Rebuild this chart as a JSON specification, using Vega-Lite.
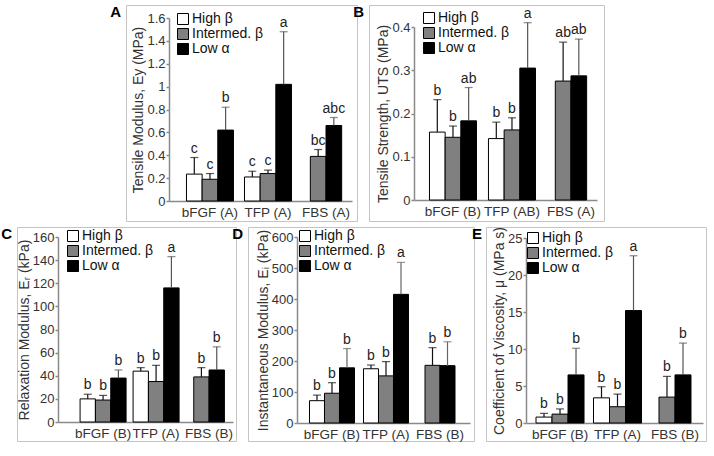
{
  "$schema": "https://vega.github.io/schema/vega-lite/v6.json",
  "padding": {"left": 0, "top": 4, "right": 4, "bottom": 4},
  "spacing": 3,
  "resolve": {"scale": {"color": "independent", "xOffset": "independent", "x": "independent", "y": "independent"}, "legend": {"color": "independent"}},
  "vconcat": [
    {
      "hconcat": [
        {"width": 97, "height": 216, "data": {"values": []}, "mark": "point", "view": {"stroke": null}},
        {
          "width": 231, "height": 216,
          "title": {"text": "A"},
          "data": {"values": [
            {"g": "bFGF (A)", "s": "High β", "v": 0.235, "hi": 0.38, "lab": "c"},
            {"g": "bFGF (A)", "s": "Intermed. β", "v": 0.19, "hi": 0.24, "lab": "c"},
            {"g": "bFGF (A)", "s": "Low α", "v": 0.62, "hi": 0.82, "lab": "b"},
            {"g": "TFP (A)", "s": "High β", "v": 0.21, "hi": 0.26, "lab": "c"},
            {"g": "TFP (A)", "s": "Intermed. β", "v": 0.24, "hi": 0.27, "lab": "c"},
            {"g": "TFP (A)", "s": "Low α", "v": 1.02, "hi": 1.48, "lab": "a"},
            {"g": "FBS (A)", "s": "Intermed. β", "v": 0.39, "hi": 0.45, "lab": "bc"},
            {"g": "FBS (A)", "s": "Low α", "v": 0.66, "hi": 0.73, "lab": "abc"}
          ]},
          "encoding": {
            "x": {"field": "g", "type": "nominal", "sort": null, "scale": {"type": "band", "domain": ["bFGF (A)", "TFP (A)", "FBS (A)"], "range": [43, 226], "paddingInner": 0.19, "paddingOuter": 0.172, "align": 0.875}, "axis": {"title": null, "offset": -20}},
            "y": {"field": "v", "type": "quantitative", "scale": {"domain": [0, 1.6], "range": [196, 13], "nice": false}, "axis": {"title": "Tensile Modulus, Ey (MPa)", "values": [0, 0.2, 0.4, 0.6, 0.8, 1, 1.2, 1.4, 1.6], "format": "~g", "offset": -43}},
            "color": {"field": "s", "type": "nominal", "scale": {"domain": ["High β", "Intermed. β", "Low α"], "range": ["#ffffff", "#808080", "#000000"]}, "legend": {"title": null, "orient": "none", "legendX": 50, "legendY": 7}}
          },
          "layer": [
            {"transform": [{"filter": "indexof(datum.g, 'FBS') < 0"}],
             "encoding": {"xOffset": {"field": "s", "type": "nominal", "scale": {"domain": ["High β", "Intermed. β", "Low α"], "paddingInner": 0, "paddingOuter": 0}}},
             "layer": [
               {"mark": {"type": "bar", "stroke": "#000", "strokeWidth": 1}},
               {"mark": {"type": "rule", "strokeWidth": 1.2}, "encoding": {"y2": {"field": "hi"}, "color": {"condition": {"test": "datum.s === 'Low α'", "value": "#555"}, "value": "#111"}}},
               {"mark": {"type": "tick", "orient": "horizontal", "size": 8, "thickness": 1.2}, "encoding": {"y": {"field": "hi", "type": "quantitative"}, "color": {"condition": {"test": "datum.s === 'Low α'", "value": "#555"}, "value": "#111"}}},
               {"mark": {"type": "text", "baseline": "bottom", "dy": -2, "fontSize": 14}, "encoding": {"y": {"field": "hi", "type": "quantitative"}, "text": {"field": "lab"}, "color": {"value": "#222"}}}
             ]},
            {"transform": [{"filter": "indexof(datum.g, 'FBS') >= 0"}],
             "encoding": {"xOffset": {"field": "s", "type": "nominal", "scale": {"domain": ["Intermed. β", "Low α"], "paddingInner": 0, "paddingOuter": 0.5}}},
             "layer": [
               {"mark": {"type": "bar", "stroke": "#000", "strokeWidth": 1}},
               {"mark": {"type": "rule", "strokeWidth": 1.2}, "encoding": {"y2": {"field": "hi"}, "color": {"condition": {"test": "datum.s === 'Low α'", "value": "#555"}, "value": "#111"}}},
               {"mark": {"type": "tick", "orient": "horizontal", "size": 8, "thickness": 1.2}, "encoding": {"y": {"field": "hi", "type": "quantitative"}, "color": {"condition": {"test": "datum.s === 'Low α'", "value": "#555"}, "value": "#111"}}},
               {"mark": {"type": "text", "baseline": "bottom", "dy": -2, "fontSize": 14}, "encoding": {"y": {"field": "hi", "type": "quantitative"}, "text": {"field": "lab"}, "color": {"value": "#222"}}}
             ]}
          ],
          "resolve": {"scale": {"xOffset": "independent"}}
        },
        {
          "width": 235, "height": 216,
          "title": {"text": "B"},
          "data": {"values": [
            {"g": "bFGF (B)", "s": "High β", "v": 0.157, "hi": 0.232, "lab": "b"},
            {"g": "bFGF (B)", "s": "Intermed. β", "v": 0.145, "hi": 0.171, "lab": "b"},
            {"g": "bFGF (B)", "s": "Low α", "v": 0.183, "hi": 0.26, "lab": "ab"},
            {"g": "TFP (AB)", "s": "High β", "v": 0.142, "hi": 0.18, "lab": "b"},
            {"g": "TFP (AB)", "s": "Intermed. β", "v": 0.162, "hi": 0.19, "lab": "b"},
            {"g": "TFP (AB)", "s": "Low α", "v": 0.305, "hi": 0.41, "lab": "a"},
            {"g": "FBS (A)", "s": "Intermed. β", "v": 0.275, "hi": 0.365, "lab": "ab"},
            {"g": "FBS (A)", "s": "Low α", "v": 0.287, "hi": 0.372, "lab": "ab"}
          ]},
          "encoding": {
            "x": {"field": "g", "type": "nominal", "sort": null, "scale": {"type": "band", "domain": ["bFGF (B)", "TFP (AB)", "FBS (A)"], "range": [45, 228], "paddingInner": 0.203, "paddingOuter": 0.1525, "align": 0.86}, "axis": {"title": null, "offset": -21}},
            "y": {"field": "v", "type": "quantitative", "scale": {"domain": [0, 0.4], "range": [195, 22], "nice": false}, "axis": {"title": "Tensile Strength, UTS (MPa)", "values": [0, 0.1, 0.2, 0.3, 0.4], "format": "~g", "offset": -45}},
            "color": {"field": "s", "type": "nominal", "scale": {"domain": ["High β", "Intermed. β", "Low α"], "range": ["#ffffff", "#808080", "#000000"]}, "legend": {"title": null, "orient": "none", "legendX": 53, "legendY": 6}}
          },
          "layer": [
            {"transform": [{"filter": "indexof(datum.g, 'FBS') < 0"}],
             "encoding": {"xOffset": {"field": "s", "type": "nominal", "scale": {"domain": ["High β", "Intermed. β", "Low α"], "paddingInner": 0, "paddingOuter": 0}}},
             "layer": [
               {"mark": {"type": "bar", "stroke": "#000", "strokeWidth": 1}},
               {"mark": {"type": "rule", "strokeWidth": 1.2}, "encoding": {"y2": {"field": "hi"}, "color": {"condition": {"test": "datum.s === 'Low α'", "value": "#555"}, "value": "#111"}}},
               {"mark": {"type": "tick", "orient": "horizontal", "size": 8, "thickness": 1.2}, "encoding": {"y": {"field": "hi", "type": "quantitative"}, "color": {"condition": {"test": "datum.s === 'Low α'", "value": "#555"}, "value": "#111"}}},
               {"mark": {"type": "text", "baseline": "bottom", "dy": -2, "fontSize": 14}, "encoding": {"y": {"field": "hi", "type": "quantitative"}, "text": {"field": "lab"}, "color": {"value": "#222"}}}
             ]},
            {"transform": [{"filter": "indexof(datum.g, 'FBS') >= 0"}],
             "encoding": {"xOffset": {"field": "s", "type": "nominal", "scale": {"domain": ["Intermed. β", "Low α"], "paddingInner": 0, "paddingOuter": 0.5}}},
             "layer": [
               {"mark": {"type": "bar", "stroke": "#000", "strokeWidth": 1}},
               {"mark": {"type": "rule", "strokeWidth": 1.2}, "encoding": {"y2": {"field": "hi"}, "color": {"condition": {"test": "datum.s === 'Low α'", "value": "#555"}, "value": "#111"}}},
               {"mark": {"type": "tick", "orient": "horizontal", "size": 8, "thickness": 1.2}, "encoding": {"y": {"field": "hi", "type": "quantitative"}, "color": {"condition": {"test": "datum.s === 'Low α'", "value": "#555"}, "value": "#111"}}},
               {"mark": {"type": "text", "baseline": "bottom", "dy": -2, "fontSize": 14}, "encoding": {"y": {"field": "hi", "type": "quantitative"}, "text": {"field": "lab"}, "color": {"value": "#222"}}}
             ]}
          ],
          "resolve": {"scale": {"xOffset": "independent"}}
        }
      ],
      "bounds": "flush",
      "spacing": 12,
      "resolve": {"scale": {"color": "independent", "xOffset": "independent", "x": "independent", "y": "independent"}, "legend": {"color": "independent"}}
    },
    {
      "hconcat": [
        {
          "width": 219, "height": 214,
          "title": {"text": "C"},
          "data": {"values": [
            {"g": "bFGF (B)", "s": "High β", "v": 20, "hi": 24, "lab": "b"},
            {"g": "bFGF (B)", "s": "Intermed. β", "v": 19, "hi": 23, "lab": "b"},
            {"g": "bFGF (B)", "s": "Low α", "v": 38, "hi": 45, "lab": "b"},
            {"g": "TFP (A)", "s": "High β", "v": 44, "hi": 47, "lab": "b"},
            {"g": "TFP (A)", "s": "Intermed. β", "v": 35, "hi": 49, "lab": "b"},
            {"g": "TFP (A)", "s": "Low α", "v": 116, "hi": 143, "lab": "a"},
            {"g": "FBS (B)", "s": "Intermed. β", "v": 39, "hi": 47, "lab": "b"},
            {"g": "FBS (B)", "s": "Low α", "v": 45, "hi": 65, "lab": "b"}
          ]},
          "encoding": {
            "x": {"field": "g", "type": "nominal", "sort": null, "scale": {"type": "band", "domain": ["bFGF (B)", "TFP (A)", "FBS (B)"], "range": [41, 216], "paddingInner": 0.132, "paddingOuter": 0.217, "align": 0.96}, "axis": {"title": null, "offset": -19}},
            "y": {"field": "v", "type": "quantitative", "scale": {"domain": [0, 160], "range": [195, 10], "nice": false}, "axis": {"title": "Relaxation Modulus, Eᵣ (kPa)", "values": [0, 20, 40, 60, 80, 100, 120, 140, 160], "offset": -41}},
            "color": {"field": "s", "type": "nominal", "scale": {"domain": ["High β", "Intermed. β", "Low α"], "range": ["#ffffff", "#808080", "#000000"]}, "legend": {"title": null, "orient": "none", "legendX": 49, "legendY": 2}}
          },
          "layer": [
            {"transform": [{"filter": "indexof(datum.g, 'FBS') < 0"}],
             "encoding": {"xOffset": {"field": "s", "type": "nominal", "scale": {"domain": ["High β", "Intermed. β", "Low α"], "paddingInner": 0, "paddingOuter": 0}}},
             "layer": [
               {"mark": {"type": "bar", "stroke": "#000", "strokeWidth": 1}},
               {"mark": {"type": "rule", "strokeWidth": 1.2}, "encoding": {"y2": {"field": "hi"}, "color": {"condition": {"test": "datum.s === 'Low α'", "value": "#555"}, "value": "#111"}}},
               {"mark": {"type": "tick", "orient": "horizontal", "size": 8, "thickness": 1.2}, "encoding": {"y": {"field": "hi", "type": "quantitative"}, "color": {"condition": {"test": "datum.s === 'Low α'", "value": "#555"}, "value": "#111"}}},
               {"mark": {"type": "text", "baseline": "bottom", "dy": -2, "fontSize": 14}, "encoding": {"y": {"field": "hi", "type": "quantitative"}, "text": {"field": "lab"}, "color": {"value": "#222"}}}
             ]},
            {"transform": [{"filter": "indexof(datum.g, 'FBS') >= 0"}],
             "encoding": {"xOffset": {"field": "s", "type": "nominal", "scale": {"domain": ["Intermed. β", "Low α"], "paddingInner": 0, "paddingOuter": 0.5}}},
             "layer": [
               {"mark": {"type": "bar", "stroke": "#000", "strokeWidth": 1}},
               {"mark": {"type": "rule", "strokeWidth": 1.2}, "encoding": {"y2": {"field": "hi"}, "color": {"condition": {"test": "datum.s === 'Low α'", "value": "#555"}, "value": "#111"}}},
               {"mark": {"type": "tick", "orient": "horizontal", "size": 8, "thickness": 1.2}, "encoding": {"y": {"field": "hi", "type": "quantitative"}, "color": {"condition": {"test": "datum.s === 'Low α'", "value": "#555"}, "value": "#111"}}},
               {"mark": {"type": "text", "baseline": "bottom", "dy": -2, "fontSize": 14}, "encoding": {"y": {"field": "hi", "type": "quantitative"}, "text": {"field": "lab"}, "color": {"value": "#222"}}}
             ]}
          ],
          "resolve": {"scale": {"xOffset": "independent"}}
        },
        {
          "width": 226, "height": 214,
          "title": {"text": "D"},
          "data": {"values": [
            {"g": "bFGF (B)", "s": "High β", "v": 72, "hi": 90, "lab": "b"},
            {"g": "bFGF (B)", "s": "Intermed. β", "v": 96, "hi": 130, "lab": "b"},
            {"g": "bFGF (B)", "s": "Low α", "v": 178, "hi": 240, "lab": "b"},
            {"g": "TFP (A)", "s": "High β", "v": 175, "hi": 187, "lab": "b"},
            {"g": "TFP (A)", "s": "Intermed. β", "v": 152, "hi": 198, "lab": "b"},
            {"g": "TFP (A)", "s": "Low α", "v": 415, "hi": 518, "lab": "a"},
            {"g": "FBS (B)", "s": "Intermed. β", "v": 186, "hi": 243, "lab": "b"},
            {"g": "FBS (B)", "s": "Low α", "v": 185, "hi": 262, "lab": "b"}
          ]},
          "encoding": {
            "x": {"field": "g", "type": "nominal", "sort": null, "scale": {"type": "band", "domain": ["bFGF (B)", "TFP (A)", "FBS (B)"], "range": [49, 222], "paddingInner": 0.167, "paddingOuter": 0.185, "align": 0.625}, "axis": {"title": null, "offset": -18}},
            "y": {"field": "v", "type": "quantitative", "scale": {"domain": [0, 600], "range": [196, 10], "nice": false}, "axis": {"title": "Instantaneous Modulus, Eᵢ (kPa)", "values": [0, 100, 200, 300, 400, 500, 600], "offset": -49}},
            "color": {"field": "s", "type": "nominal", "scale": {"domain": ["High β", "Intermed. β", "Low α"], "range": ["#ffffff", "#808080", "#000000"]}, "legend": {"title": null, "orient": "none", "legendX": 50, "legendY": 2}}
          },
          "layer": [
            {"transform": [{"filter": "indexof(datum.g, 'FBS') < 0"}],
             "encoding": {"xOffset": {"field": "s", "type": "nominal", "scale": {"domain": ["High β", "Intermed. β", "Low α"], "paddingInner": 0, "paddingOuter": 0}}},
             "layer": [
               {"mark": {"type": "bar", "stroke": "#000", "strokeWidth": 1}},
               {"mark": {"type": "rule", "strokeWidth": 1.2}, "encoding": {"y2": {"field": "hi"}, "color": {"condition": {"test": "datum.s === 'Low α'", "value": "#666"}, "value": "#111"}}},
               {"mark": {"type": "tick", "orient": "horizontal", "size": 8, "thickness": 1.2}, "encoding": {"y": {"field": "hi", "type": "quantitative"}, "color": {"condition": {"test": "datum.s === 'Low α'", "value": "#666"}, "value": "#111"}}},
               {"mark": {"type": "text", "baseline": "bottom", "dy": -2, "fontSize": 14}, "encoding": {"y": {"field": "hi", "type": "quantitative"}, "text": {"field": "lab"}, "color": {"value": "#222"}}}
             ]},
            {"transform": [{"filter": "indexof(datum.g, 'FBS') >= 0"}],
             "encoding": {"xOffset": {"field": "s", "type": "nominal", "scale": {"domain": ["Intermed. β", "Low α"], "paddingInner": 0, "paddingOuter": 0.5}}},
             "layer": [
               {"mark": {"type": "bar", "stroke": "#000", "strokeWidth": 1}},
               {"mark": {"type": "rule", "strokeWidth": 1.2}, "encoding": {"y2": {"field": "hi"}, "color": {"condition": {"test": "datum.s === 'Low α'", "value": "#666"}, "value": "#111"}}},
               {"mark": {"type": "tick", "orient": "horizontal", "size": 8, "thickness": 1.2}, "encoding": {"y": {"field": "hi", "type": "quantitative"}, "color": {"condition": {"test": "datum.s === 'Low α'", "value": "#666"}, "value": "#111"}}},
               {"mark": {"type": "text", "baseline": "bottom", "dy": -2, "fontSize": 14}, "encoding": {"y": {"field": "hi", "type": "quantitative"}, "text": {"field": "lab"}, "color": {"value": "#222"}}}
             ]}
          ],
          "resolve": {"scale": {"xOffset": "independent"}}
        },
        {
          "width": 220, "height": 214,
          "title": {"text": "E"},
          "data": {"values": [
            {"g": "bFGF (B)", "s": "High β", "v": 0.8, "hi": 1.3, "lab": "b"},
            {"g": "bFGF (B)", "s": "Intermed. β", "v": 1.2, "hi": 1.9, "lab": "b"},
            {"g": "bFGF (B)", "s": "Low α", "v": 6.5, "hi": 10.1, "lab": "b"},
            {"g": "TFP (A)", "s": "High β", "v": 3.4, "hi": 4.9, "lab": "b"},
            {"g": "TFP (A)", "s": "Intermed. β", "v": 2.2, "hi": 3.9, "lab": "b"},
            {"g": "TFP (A)", "s": "Low α", "v": 15.2, "hi": 22.6, "lab": "a"},
            {"g": "FBS (B)", "s": "Intermed. β", "v": 3.5, "hi": 6.3, "lab": "b"},
            {"g": "FBS (B)", "s": "Low α", "v": 6.5, "hi": 10.8, "lab": "b"}
          ]},
          "encoding": {
            "x": {"field": "g", "type": "nominal", "sort": null, "scale": {"type": "band", "domain": ["bFGF (B)", "TFP (A)", "FBS (B)"], "range": [40, 217], "paddingInner": 0.165, "paddingOuter": 0.122, "align": 0.714}, "axis": {"title": null, "offset": -18}},
            "y": {"field": "v", "type": "quantitative", "scale": {"domain": [0, 25], "range": [196, 11], "nice": false}, "axis": {"title": "Coefficient of Viscosity, μ (MPa s)", "values": [0, 5, 10, 15, 20, 25], "offset": -40}},
            "color": {"field": "s", "type": "nominal", "scale": {"domain": ["High β", "Intermed. β", "Low α"], "range": ["#ffffff", "#808080", "#000000"]}, "legend": {"title": null, "orient": "none", "legendX": 40, "legendY": 4}}
          },
          "layer": [
            {"transform": [{"filter": "indexof(datum.g, 'FBS') < 0"}],
             "encoding": {"xOffset": {"field": "s", "type": "nominal", "scale": {"domain": ["High β", "Intermed. β", "Low α"], "paddingInner": 0, "paddingOuter": 0}}},
             "layer": [
               {"mark": {"type": "bar", "stroke": "#000", "strokeWidth": 1}},
               {"mark": {"type": "rule", "strokeWidth": 1.2}, "encoding": {"y2": {"field": "hi"}, "color": {"condition": {"test": "datum.s === 'Low α'", "value": "#555"}, "value": "#111"}}},
               {"mark": {"type": "tick", "orient": "horizontal", "size": 8, "thickness": 1.2}, "encoding": {"y": {"field": "hi", "type": "quantitative"}, "color": {"condition": {"test": "datum.s === 'Low α'", "value": "#555"}, "value": "#111"}}},
               {"mark": {"type": "text", "baseline": "bottom", "dy": -2, "fontSize": 14}, "encoding": {"y": {"field": "hi", "type": "quantitative"}, "text": {"field": "lab"}, "color": {"value": "#222"}}}
             ]},
            {"transform": [{"filter": "indexof(datum.g, 'FBS') >= 0"}],
             "encoding": {"xOffset": {"field": "s", "type": "nominal", "scale": {"domain": ["Intermed. β", "Low α"], "paddingInner": 0, "paddingOuter": 0.5}}},
             "layer": [
               {"mark": {"type": "bar", "stroke": "#000", "strokeWidth": 1}},
               {"mark": {"type": "rule", "strokeWidth": 1.2}, "encoding": {"y2": {"field": "hi"}, "color": {"condition": {"test": "datum.s === 'Low α'", "value": "#555"}, "value": "#111"}}},
               {"mark": {"type": "tick", "orient": "horizontal", "size": 8, "thickness": 1.2}, "encoding": {"y": {"field": "hi", "type": "quantitative"}, "color": {"condition": {"test": "datum.s === 'Low α'", "value": "#555"}, "value": "#111"}}},
               {"mark": {"type": "text", "baseline": "bottom", "dy": -2, "fontSize": 14}, "encoding": {"y": {"field": "hi", "type": "quantitative"}, "text": {"field": "lab"}, "color": {"value": "#222"}}}
             ]}
          ],
          "resolve": {"scale": {"xOffset": "independent"}}
        }
      ],
      "bounds": "flush",
      "spacing": 12,
      "resolve": {"scale": {"color": "independent", "xOffset": "independent", "x": "independent", "y": "independent"}, "legend": {"color": "independent"}}
    }
  ],
  "config": {
    "font": "Liberation Sans",
    "view": {"stroke": "#c4c4c4", "strokeWidth": 1},
    "title": {"orient": "left", "anchor": "end", "angle": 0, "align": "right", "baseline": "top", "frame": "group", "offset": -6, "fontSize": 15, "fontWeight": "bold", "color": "#000"},
    "axis": {"domainColor": "#8a8a8a", "domainWidth": 1.5, "tickColor": "#8a8a8a", "tickWidth": 1.5, "labelColor": "#333", "titleColor": "#333", "labelFontSize": 13, "titleFontSize": 14, "titleFontWeight": "normal", "grid": false},
    "axisY": {"tickSize": 3, "labelPadding": 1, "titlePadding": 1},
    "axisX": {"ticks": false, "tickSize": 0, "labelFontSize": 13.5, "labelPadding": 4, "labelAngle": 0},
    "legend": {"symbolType": "square", "symbolSize": 121, "symbolStrokeColor": "#000", "symbolStrokeWidth": 1, "labelFontSize": 14, "labelColor": "#111", "labelOffset": 2, "rowPadding": -4, "padding": 0}
  }
}
